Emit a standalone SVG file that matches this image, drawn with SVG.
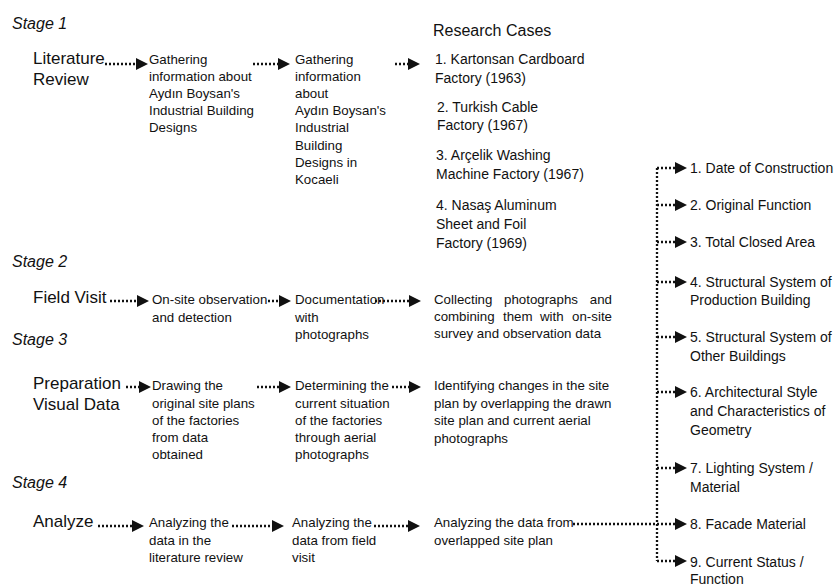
<svg xmlns="http://www.w3.org/2000/svg" width="839" height="588" viewBox="0 0 839 588">
<style>
text{font-family:"Liberation Sans",Arial,sans-serif;fill:#111}
.stage{font-size:16px;font-style:italic}
.head{font-size:17px}
.body{font-size:13.3px}
.case{font-size:14px}
.item{font-size:14px}
.dot{fill:none;stroke:#111;stroke-width:2.3;stroke-dasharray:2 2}
</style>
<defs>
<marker id="ah" viewBox="0 0 12 12" refX="0" refY="6" markerWidth="12" markerHeight="12" markerUnits="userSpaceOnUse" orient="auto">
<path d="M0,0 L12,6 L0,12 Z" fill="#111"/>
</marker>
</defs>
<rect width="839" height="588" fill="#fff"/>

<g id="stage1"><text class="stage" x="12" y="29">Stage 1</text></g>
<g id="stage2"><text class="stage" x="12" y="267">Stage 2</text></g>
<g id="stage3"><text class="stage" x="12" y="345">Stage 3</text></g>
<g id="stage4"><text class="stage" x="12" y="488">Stage 4</text></g>

<g id="literature-review"><text class="head" x="33" y="64">Literature<tspan x="33" y="85">Review</tspan></text></g>
<g id="s1-gathering"><text class="body" x="149" y="64">Gathering<tspan x="149" y="81">information about</tspan><tspan x="149" y="98">Aydın Boysan's</tspan><tspan x="149" y="115">Industrial Building</tspan><tspan x="149" y="132">Designs</tspan></text></g>
<g id="s1-kocaeli"><text class="body" x="295" y="64">Gathering<tspan x="295" y="81">information</tspan><tspan x="295" y="98">about</tspan><tspan x="295" y="115">Aydın Boysan's</tspan><tspan x="295" y="132">Industrial</tspan><tspan x="295" y="150">Building</tspan><tspan x="295" y="167">Designs in</tspan><tspan x="295" y="184">Kocaeli</tspan></text></g>
<g id="research-cases">
<text class="stage" style="font-style:normal" x="433" y="36">Research Cases</text>
<text class="case" x="435" y="64">1. Kartonsan Cardboard<tspan x="435" y="83">Factory (1963)</tspan></text>
<text class="case" x="437" y="112">2. Turkish Cable<tspan x="437" y="130">Factory (1967)</tspan></text>
<text class="case" x="436" y="160">3. Arçelik Washing<tspan x="436" y="179">Machine Factory (1967)</tspan></text>
<text class="case" x="436" y="210">4. Nasaş Aluminum<tspan x="436" y="229">Sheet and Foil</tspan><tspan x="436" y="248">Factory (1969)</tspan></text>
</g>

<g id="field-visit"><text class="head" x="33" y="303">Field Visit</text></g>
<g id="s2-onsite"><text class="body" x="152" y="304">On-site observation<tspan x="152" y="322">and detection</tspan></text></g>
<g id="s2-documentation"><text class="body" x="295" y="304">Documentation<tspan x="295" y="322">with</tspan><tspan x="295" y="339">photographs</tspan></text></g>
<g id="s2-collecting"><text class="body" y="304"><tspan x="434">Collecting</tspan><tspan x="504">photographs</tspan><tspan x="612" text-anchor="end">and</tspan></text>
<text class="body" y="321"><tspan x="434">combining</tspan><tspan x="503">them</tspan><tspan x="540">with</tspan><tspan x="612" text-anchor="end">on-site</tspan></text>
<text class="body" x="434" y="338">survey and observation data</text></g>

<g id="preparation"><text class="head" x="33" y="389">Preparation<tspan x="33" y="410">Visual Data</tspan></text></g>
<g id="s3-drawing"><text class="body" x="152" y="390">Drawing the<tspan x="152" y="408">original site plans</tspan><tspan x="152" y="425">of the factories</tspan><tspan x="152" y="442">from data</tspan><tspan x="152" y="459">obtained</tspan></text></g>
<g id="s3-determining"><text class="body" x="295" y="390">Determining the<tspan x="295" y="408">current situation</tspan><tspan x="295" y="425">of the factories</tspan><tspan x="295" y="442">through aerial</tspan><tspan x="295" y="459">photographs</tspan></text></g>
<g id="s3-identifying"><text class="body" x="434" y="390">Identifying changes in the site<tspan x="434" y="408">plan by overlapping the drawn</tspan><tspan x="434" y="425">site plan and current aerial</tspan><tspan x="434" y="443">photographs</tspan></text></g>

<g id="analyze"><text class="head" x="33" y="527">Analyze</text></g>
<g id="s4-literature"><text class="body" x="149" y="527">Analyzing the<tspan x="149" y="545">data in the</tspan><tspan x="149" y="562">literature review</tspan></text></g>
<g id="s4-field"><text class="body" x="292" y="527">Analyzing the<tspan x="292" y="545">data from field</tspan><tspan x="292" y="562">visit</tspan></text></g>
<g id="s4-overlapped"><text class="body" x="434" y="527">Analyzing the data from<tspan x="434" y="545">overlapped site plan</tspan></text></g>

<g id="criteria">
<text class="item" x="690" y="173">1. Date of Construction</text>
<text class="item" x="690" y="210">2. Original Function</text>
<text class="item" x="690" y="247">3. Total Closed Area</text>
<text class="item" x="690" y="287">4. Structural System of<tspan x="690" y="305">Production Building</tspan></text>
<text class="item" x="690" y="342">5. Structural System of<tspan x="690" y="361">Other Buildings</tspan></text>
<text class="item" x="690" y="397">6. Architectural Style<tspan x="690" y="416">and Characteristics of</tspan><tspan x="690" y="435">Geometry</tspan></text>
<text class="item" x="690" y="473">7. Lighting System /<tspan x="690" y="492">Material</tspan></text>
<text class="item" x="690" y="529">8. Facade Material</text>
<text class="item" x="690" y="567">9. Current Status /<tspan x="690" y="584">Function</tspan></text>
</g>

<g id="connectors">
<path class="dot" marker-end="url(#ah)" d="M105,64 H136"/>
<path class="dot" marker-end="url(#ah)" d="M253,64 H278"/>
<path class="dot" marker-end="url(#ah)" d="M395,64 H408"/>
<path class="dot" marker-end="url(#ah)" d="M110,301 H137"/>
<path class="dot" marker-end="url(#ah)" d="M268,301 H279"/>
<path class="dot" marker-end="url(#ah)" d="M375,301 H409"/>
<path class="dot" marker-end="url(#ah)" d="M126,387 H139"/>
<path class="dot" marker-end="url(#ah)" d="M257,387 H279"/>
<path class="dot" marker-end="url(#ah)" d="M392,387 H409"/>
<path class="dot" marker-end="url(#ah)" d="M98,526 H132"/>
<path class="dot" marker-end="url(#ah)" d="M232,526 H272"/>
<path class="dot" marker-end="url(#ah)" d="M374,526 H408"/>
<path class="dot" marker-end="url(#ah)" d="M573,524 H675"/>
<path class="dot" d="M657,168 V561"/>
<path class="dot" marker-end="url(#ah)" d="M657,168 H675"/>
<path class="dot" marker-end="url(#ah)" d="M657,205 H675"/>
<path class="dot" marker-end="url(#ah)" d="M657,242 H675"/>
<path class="dot" marker-end="url(#ah)" d="M657,282 H675"/>
<path class="dot" marker-end="url(#ah)" d="M657,337 H675"/>
<path class="dot" marker-end="url(#ah)" d="M657,392 H675"/>
<path class="dot" marker-end="url(#ah)" d="M657,468 H675"/>
<path class="dot" marker-end="url(#ah)" d="M657,561 H675"/>
</g>
</svg>
